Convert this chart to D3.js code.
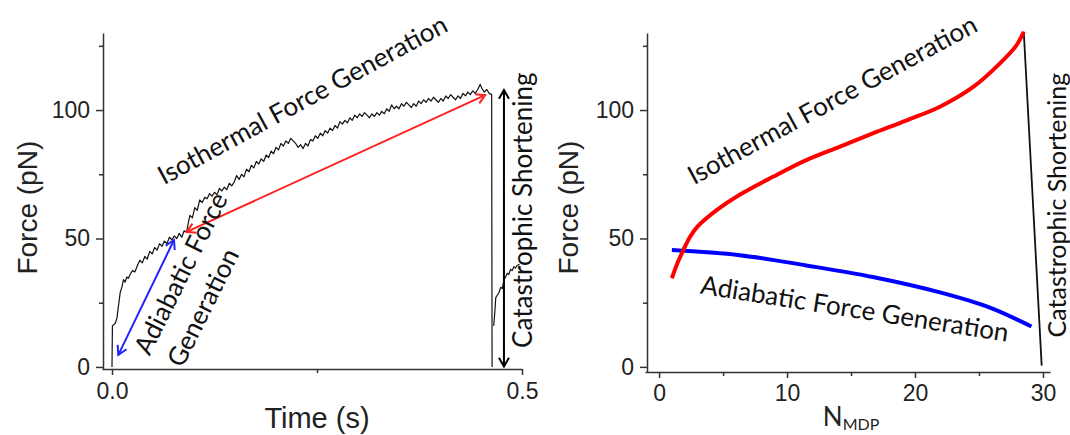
<!DOCTYPE html>
<html>
<head>
<meta charset="utf-8">
<script src="https://cdn.jsdelivr.net/npm/d3@7"></script>
<style>
  body { margin: 0; background: #fff; }
  svg { display: block; }
</style>
</head>
<body>
<svg width="1070" height="435"></svg>
<script>
// ---- left panel: measured force trace (time s, force pN); null = pen up ----
const traceT = [0, 0.0005, 0.004, 0.006, 0.008, 0.010, 0.012, 0.014, 0.016, 0.018, 0.020, 0.022, 0.025, 0.028,
  0.031, 0.034, 0.037, 0.040, 0.043, 0.046, 0.049, 0.052, 0.055, 0.058, 0.061, 0.064, 0.067, 0.070, 0.073,
  0.076, 0.079, 0.082, 0.085, 0.088, 0.091, 0.093, 0.095, 0.098, 0.101, 0.104, 0.107, 0.110, 0.113, 0.116,
  0.119, 0.122, 0.125, 0.128, 0.131, 0.134, 0.137, 0.140, 0.143, 0.146, 0.149, 0.152, 0.155, 0.158, 0.161,
  0.164, 0.167, 0.170, 0.173, 0.176, 0.179, 0.182, 0.185, 0.188, 0.191, 0.194, 0.197, 0.200, 0.203, 0.206,
  0.209, 0.212, 0.215, 0.218, 0.221, 0.224, 0.227, 0.230, 0.233, 0.236, 0.239, 0.242, 0.245, 0.248, 0.251,
  0.254, 0.257, 0.260, 0.263, 0.266, 0.269, 0.272, 0.275, 0.278, 0.281, 0.284, 0.287, 0.290, 0.293, 0.296,
  0.299, 0.302, 0.305, 0.308, 0.311, 0.314, 0.317, 0.320, 0.323, 0.326, 0.329, 0.332, 0.335, 0.338, 0.341,
  0.344, 0.347, 0.350, 0.353, 0.356, 0.359, 0.362, 0.365, 0.368, 0.371, 0.374, 0.377, 0.380, 0.383, 0.386,
  0.389, 0.392, 0.395, 0.398, 0.401, 0.404, 0.407, 0.410, 0.413, 0.416, 0.419, 0.422, 0.425, 0.428, 0.431,
  0.434, 0.437, 0.440, 0.443, 0.446, 0.449, 0.451, 0.454, 0.457, 0.460, 0.463, 0.4635, 0.464,
  0.4655, 0.467, 0.468, 0.470, 0.472, 0.474, 0.476, 0.478, 0.480, 0.482, 0.484, 0.486, 0.488, 0.490, 0.492, 0.494, 0.497];
const traceF = [0, 16, 17, 19, 24, 29, 31, 34, 33, 35, 34.5, 36, 37.5, 37,
  39.5, 41.5, 40.5, 43, 42, 45, 44, 46.5, 45.5, 48, 47, 49, 48, 50.5, 49.5,
  51, 50, 52, 50.5, 53, 52.5, 56, 59, 58, 62, 61, 65, 64, 66, 65.5,
  67.5, 66.5, 68, 67, 69.5, 68.5, 70, 69, 71.5, 70.5, 72, 74.5, 73, 75, 74,
  77, 76, 78.5, 77.5, 80, 79, 81, 80, 82.5, 81.5, 84, 83, 85.5, 84.5, 87,
  86, 88, 87, 89, 88, 87, 85.5, 86.5, 85, 87, 86, 88.5, 88, 90, 89,
  91, 90, 92, 91, 93, 92, 94, 93, 95.5, 94.5, 96, 95, 97, 96, 98,
  97, 98.5, 97.5, 99, 98, 97, 98.5, 97.5, 99, 98, 99.5, 98.5, 100.5, 99.5, 102,
  100.5, 101.5, 100.5, 102.5, 101.5, 103, 102, 101, 102.5, 101.5, 103.5, 102.5, 104, 103, 104.5,
  103.5, 105, 104, 103, 104.5, 103.5, 105.5, 104.5, 106, 105, 104, 105.5, 104.5, 106.5, 105.5,
  107, 106, 107.5, 106.5, 108, 110, 108.5, 107, 108, 106.5, 106, 0, null,
  16, 22, 27, 28, 29, 31, 30.5, 34, 35, 36.5, 36, 38, 37.5, 39, 38.5, 39.5, 40];

// arrows on the left panel: [t, F] at each end
const arrowsLeft = [
  { from: [0.0077, 4.7], to: [0.0756, 49.4], color: '#2222ff' },
  { from: [0.091, 52.6], to: [0.455, 105.8], color: '#ff2020' },
  { from: [0.478, 107.8], to: [0.478, 0.2], color: '#000' }
];

// ---- right panel: model curves vs number of MDP ----
const isoN = [1.0, 1.4, 1.9, 2.4, 3.0, 4.5, 6.3, 8.9, 11.5, 14.1, 16.7, 19.4, 21.95, 24.55, 26.6, 27.9, 28.5];
const isoF = [34.5, 40, 45.5, 50.5, 54.6, 61, 67, 74, 80.5, 85.7, 90.9, 96.1, 101.3, 109, 118, 125, 130.5];
const adiN = [1.0, 6.3, 11.5, 16.7, 21.95, 25.9, 29.1];
const adiF = [45.5, 43.5, 39.5, 35, 29, 23, 15.7];
const catN = [28.5, 29.9];
const catF = [130.5, 0.5];

// tick values
const forceTicks = [0, 50, 100];
const forceMinor = [25, 75, 125];
const timeTicks = [0, 0.5];
const timeMinor = [0.25];
const nTicks = [0, 10, 20, 30];
const nMinor = [5, 15, 25];

// annotations in data units
const notesLeft = [
  { text: 'Isothermal Force Generation', x: 0.2317, y: 104.3, rot: -28.5 },
  { text: 'Adiabatic Force', x: 0.083, y: 36.6, rot: -63.5 },
  { text: 'Generation', x: 0.110, y: 23.3, rot: -63.5 },
  { text: 'Catastrophic Shortening', x: 0.5, y: 61, rot: -90 }
];
const notesRight = [
  { text: 'Isothermal Force Generation', x: 13.5, y: 104.3, rot: -28.5 },
  { text: 'Adiabatic Force Generation', x: 15.3, y: 23, rot: 8.9 },
  { text: 'Catastrophic Shortening', x: 31.0, y: 63, rot: -90 }
];

const svg = d3.select('svg');
svg.append('rect').attr('width', 1070).attr('height', 435).attr('fill', '#fff');

const tickFont = 'Liberation Sans, Arial, sans-serif';
const noteFont = 'Lato, Calibri, sans-serif';

function drawAxes(x, y, yAxisX, xAxisY, xt, xm, yt, ym, xfmt, xpad) {
  const gy = svg.append('g').attr('transform', `translate(${yAxisX},0)`);
  gy.call(d3.axisLeft(y).tickValues(yt).tickSize(7).tickPadding(6).tickSizeOuter(0));
  const gym = svg.append('g').attr('transform', `translate(${yAxisX},0)`);
  gym.call(d3.axisLeft(y).tickValues(ym).tickSize(4).tickFormat('').tickSizeOuter(0));
  gym.select('.domain').remove();

  const gx = svg.append('g').attr('transform', `translate(0,${xAxisY})`);
  gx.call(d3.axisBottom(x).tickValues(xt).tickFormat(xfmt).tickSize(6).tickPadding(xpad).tickSizeOuter(0));
  const gxm = svg.append('g').attr('transform', `translate(0,${xAxisY})`);
  gxm.call(d3.axisBottom(x).tickValues(xm).tickSize(4).tickFormat('').tickSizeOuter(0));
  gxm.select('.domain').remove();

  [gy, gym, gx, gxm].forEach(g => {
    g.selectAll('path, line').attr('stroke', '#333').attr('stroke-width', 1.5);
    g.selectAll('text').attr('font-family', tickFont).attr('font-size', 23).attr('fill', '#222');
  });
}

function arrow(g, p1, p2, color) {
  const [x1, y1] = p1, [x2, y2] = p2;
  g.append('line').attr('x1', x1).attr('y1', y1).attr('x2', x2).attr('y2', y2)
    .attr('stroke', color).attr('stroke-width', 2);
  const head = (px, py, a) => {
    const L = 10, w = Math.PI / 6;
    const pts = [[px - L * Math.cos(a - w), py - L * Math.sin(a - w)], [px, py],
                 [px - L * Math.cos(a + w), py - L * Math.sin(a + w)]];
    g.append('path').attr('d', d3.line()(pts)).attr('fill', 'none')
      .attr('stroke', color).attr('stroke-width', 2);
  };
  const a = Math.atan2(y2 - y1, x2 - x1);
  head(x2, y2, a);
  head(x1, y1, a + Math.PI);
}

function notes(list, x, y, size, vsize) {
  list.forEach(n => {
    svg.append('text')
      .attr('transform', `translate(${x(n.x)},${y(n.y)}) rotate(${n.rot})`)
      .attr('text-anchor', 'middle').attr('dominant-baseline', 'central')
      .attr('font-family', noteFont).attr('font-size', n.rot === -90 ? vsize : size).attr('fill', '#111')
      .text(n.text);
  });
}

// ---------- left panel ----------
const xL = d3.scaleLinear().domain([-0.0122, 0.5]).range([102, 522]);
const yL = d3.scaleLinear().domain([-0.8, 130]).range([369, 33]);
drawAxes(xL, yL, 103, 369, timeTicks, timeMinor, forceTicks, forceMinor, d3.format('.1f'), 8);

const trace = traceT.map((t, i) => [t, traceF[i]]);
svg.append('path')
  .attr('d', d3.line().defined(d => d[1] !== null).x(d => xL(d[0])).y(d => yL(d[1]))(trace))
  .attr('fill', 'none').attr('stroke', '#111').attr('stroke-width', 1.2).attr('stroke-linejoin', 'round');

const ga = svg.append('g');
arrowsLeft.forEach(a => arrow(ga, [xL(a.from[0]), yL(a.from[1])], [xL(a.to[0]), yL(a.to[1])], a.color));
notes(notesLeft, xL, yL, 26, 26);

svg.append('text').attr('x', xL(0.25)).attr('y', 428).attr('text-anchor', 'middle')
  .attr('font-family', tickFont).attr('font-size', 29).attr('fill', '#222').text('Time (s)');
svg.append('text').attr('transform', `translate(37,${yL(62)}) rotate(-90)`).attr('text-anchor', 'middle')
  .attr('font-family', tickFont).attr('font-size', 28).attr('fill', '#222').text('Force (pN)');

// ---------- right panel ----------
const xR = d3.scaleLinear().domain([-1.1, 30.55]).range([645, 1050]);
const yR = d3.scaleLinear().domain([-2, 130]).range([372, 33]);
drawAxes(xR, yR, 647, 372, nTicks, nMinor, forceTicks, forceMinor, d3.format('d'), 7);

const lineR = d3.line().x(d => xR(d[0])).y(d => yR(d[1]));
svg.append('path').attr('d', lineR(catN.map((n, i) => [n, catF[i]])))
  .attr('fill', 'none').attr('stroke', '#111').attr('stroke-width', 1.8);
svg.append('path').attr('d', lineR.curve(d3.curveCatmullRom.alpha(0.5))(adiN.map((n, i) => [n, adiF[i]])))
  .attr('fill', 'none').attr('stroke', '#0000ff').attr('stroke-width', 4);
svg.append('path').attr('d', lineR.curve(d3.curveCatmullRom.alpha(0.5))(isoN.map((n, i) => [n, isoF[i]])))
  .attr('fill', 'none').attr('stroke', '#ff0000').attr('stroke-width', 4);
notes(notesRight, xR, yR, 26, 25);

svg.append('text').attr('transform', `translate(578,${yR(62)}) rotate(-90)`).attr('text-anchor', 'middle')
  .attr('font-family', tickFont).attr('font-size', 28).attr('fill', '#222').text('Force (pN)');
const nt = svg.append('text').attr('x', xR(15)).attr('y', 426).attr('text-anchor', 'middle')
  .attr('font-family', noteFont).attr('font-size', 26).attr('fill', '#222');
nt.append('tspan').text('N');
nt.append('tspan').attr('font-size', 16).attr('dy', 4).text('MDP');
</script>
</body>
</html>
